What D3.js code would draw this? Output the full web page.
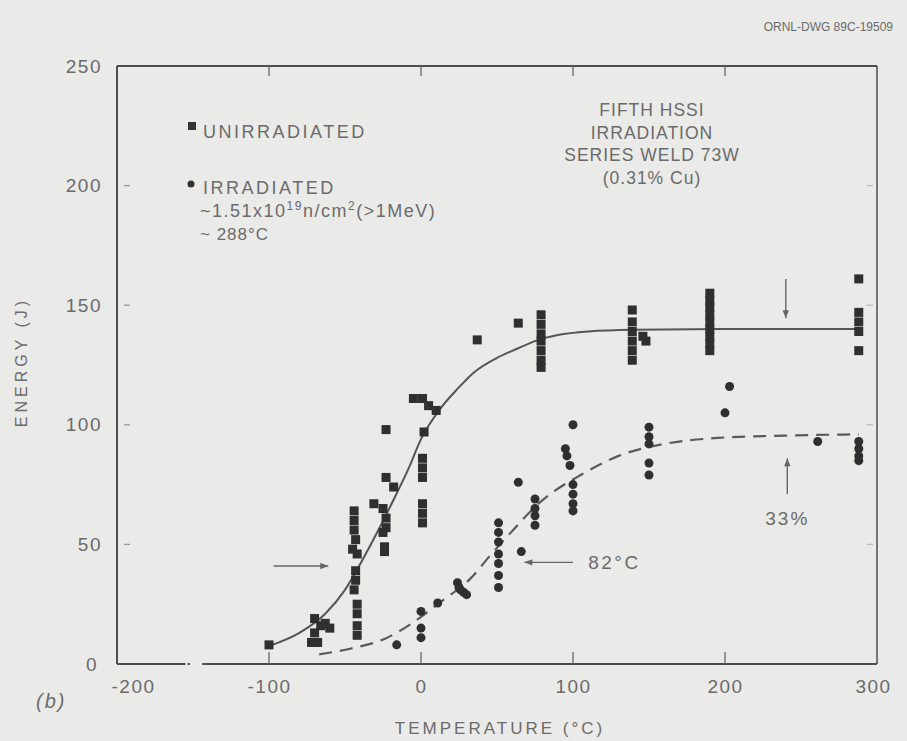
<!DOCTYPE html>
<html>
<head>
<meta charset="utf-8">
<script src="https://cdn.jsdelivr.net/npm/d3@7"></script>
<style>
  html, body { margin: 0; padding: 0; background: #e9e9e7; }
  svg { display: block; }
  text { font-family: "Liberation Sans", Arial, sans-serif; fill: #6b6b6b; }
</style>
</head>
<body>
<script>
// tick labels
const tempTicks = [-200, -100, 0, 100, 200, 300]
const energyTicks = [0, 50, 100, 150, 200, 250]
const innerTempTicks = [-100, 0, 100, 200]
const innerEnergyTicks = [50, 100, 150, 200]

// unirradiated specimens (squares): [temperature C, energy J]
const unirradiated = [
    [-100, 8],
    [-72, 9], [-68, 9], [-70, 13], [-66, 16], [-60, 15], [-70, 19], [-63, 17],
    [-44, 64], [-44, 60], [-44, 56], [-43, 52], [-45, 48], [-42, 46], [-43, 39],
    [-43, 35], [-44, 31], [-42, 25], [-42, 21], [-42, 16], [-42, 12],
    [-31, 67], [-25, 65], [-23, 61], [-23, 57], [-23, 78], [-18, 74], [-23, 98],
    [-25, 55], [-24, 49], [-24, 47],
    [2, 97], [1, 86], [1, 82], [1, 78], [1, 67], [1, 63], [1, 59],
    [-5, 111], [1, 111], [5, 108], [10, 106],
    [37, 135.5], [64, 142.5],
    [79, 146], [79, 142], [79, 138], [79, 135], [79, 131], [79, 127], [79, 124],
    [139, 148], [139, 143], [139, 139], [139, 135], [139, 131], [139, 127], [146, 137], [148, 135],
    [190, 155], [190, 152], [190, 149], [190, 146], [190, 143], [190, 140], [190, 137], [190, 134], [190, 131],
    [288, 161], [288, 147], [288, 143], [288, 139], [288, 131]
]

// irradiated specimens (circles)
const irradiated = [
    [-16, 8],
    [0, 22], [0, 15], [0, 11],
    [11, 25.5],
    [24, 34], [26, 31], [28, 30], [30, 29], [25, 32],
    [51, 59], [51, 55], [51, 51], [51, 46], [51, 42], [51, 37], [51, 32],
    [64, 76], [66, 47],
    [75, 69], [75, 65], [75, 62], [75, 58],
    [95, 90], [96, 87], [98, 83], [100, 100], [100, 75], [100, 71], [100, 67], [100, 64],
    [150, 99], [150, 95], [150, 92], [150, 84], [150, 79],
    [200, 105], [203, 116],
    [261, 93],
    [288, 93], [288, 90], [288, 87], [288, 85]
]

// fitted curves as drawn on the figure
const unirradiatedFit = [
    [-100, 7.5], [-80, 13], [-63, 21], [-50, 31], [-39, 43], [-28, 56], [-17, 70],
    [-8, 82], [0, 94], [13, 107], [24, 115], [35, 122], [50, 128], [64, 132],
    [75, 135], [90, 137.5], [110, 139], [140, 139.7], [200, 140], [288, 140]
]
const irradiatedFit = [
    [-67, 4], [-46, 6.5], [-24, 10.5], [-6, 17], [13, 26], [33, 36], [45, 45],
    [57, 53.5], [79, 68], [105, 79], [130, 87], [160, 92], [195, 94.5],
    [240, 95.5], [288, 96]
]

const legendLines = ['~1.51x10', '~ 288\u00b0C']
const titleLines = ['FIFTH HSSI', 'IRRADIATION', 'SERIES WELD 73W', '(0.31% Cu)']

const W = 907, H = 741

const svg = d3.select('body').append('svg')
    .attr('width', W)
    .attr('height', H)

svg.append('rect').attr('width', W).attr('height', H).attr('fill', '#eaeae8')

const x = d3.scaleLinear().domain([-200, 300]).range([117, 877])
const y = d3.scaleLinear().domain([0, 250]).range([664, 66])

const ink = '#4d4d4d'

// frame
const frame = svg.append('g').attr('stroke', ink).attr('stroke-width', 2).attr('fill', 'none')
frame.append('line').attr('x1', x(-200)).attr('x2', x(300)).attr('y1', y(250)).attr('y2', y(250))
frame.append('line').attr('x1', x(-200)).attr('x2', x(-200)).attr('y1', y(250)).attr('y2', y(0))
frame.append('line').attr('x1', x(300)).attr('x2', x(300)).attr('y1', y(250)).attr('y2', y(0)).attr('stroke-width', 1.5)
// bottom axis has a small break in the original
frame.append('line').attr('x1', x(-200)).attr('x2', x(-155)).attr('y1', y(0)).attr('y2', y(0))
frame.append('line').attr('x1', x(-153.5)).attr('x2', x(-152)).attr('y1', y(0)).attr('y2', y(0))
frame.append('line').attr('x1', x(-144)).attr('x2', x(300)).attr('y1', y(0)).attr('y2', y(0))

// inward tick marks
const ticks = svg.append('g').attr('stroke', '#666').attr('stroke-width', 1.3)
innerTempTicks.forEach(function (t) {
    ticks.append('line').attr('x1', x(t)).attr('x2', x(t)).attr('y1', y(250)).attr('y2', y(250) + 10)
    ticks.append('line').attr('x1', x(t)).attr('x2', x(t)).attr('y1', y(0)).attr('y2', y(0) - 12)
})
innerEnergyTicks.forEach(function (e) {
    ticks.append('line').attr('x1', x(-200) + 7).attr('x2', x(-200) + 13).attr('y1', y(e)).attr('y2', y(e)).attr('stroke', '#999')
    ticks.append('line').attr('x1', x(300) - 10).attr('x2', x(300) - 4).attr('y1', y(e)).attr('y2', y(e)).attr('stroke', '#bbb')
})

// axis labels via d3 axes, domain hidden
const xAxis = svg.append('g')
    .attr('transform', 'translate(0,' + (y(0) + 10) + ')')
    .call(d3.axisBottom(x).tickValues(tempTicks).tickSize(0).tickPadding(6)
        .tickFormat(function (d) { return d < 0 ? '-' + Math.abs(d) : d }))
xAxis.select('.domain').remove()
xAxis.selectAll('text')
    .attr('font-size', 19).attr('fill', '#6b6b6b').attr('letter-spacing', 1.5)
    .attr('font-family', '"Liberation Sans", Arial, sans-serif')
    .attr('dx', function (d) { return d === -200 ? 16 : (d === 300 ? -4 : 0) })

const yAxis = svg.append('g')
    .attr('transform', 'translate(' + (x(-200) - 15) + ',0)')
    .call(d3.axisLeft(y).tickValues(energyTicks).tickSize(0).tickPadding(0))
yAxis.select('.domain').remove()
yAxis.selectAll('text')
    .attr('font-size', 19).attr('fill', '#6b6b6b').attr('letter-spacing', 1.5)
    .attr('font-family', '"Liberation Sans", Arial, sans-serif')
    .attr('dx', function (d) { return d === 0 ? -4 : 0 })

svg.append('text')
    .attr('x', 500).attr('y', 734)
    .attr('text-anchor', 'middle')
    .attr('font-size', 17).attr('letter-spacing', 3)
    .text('TEMPERATURE (\u00b0C)')

svg.append('text')
    .attr('transform', 'translate(27,362) rotate(-90)')
    .attr('text-anchor', 'middle')
    .attr('font-size', 16).attr('letter-spacing', 4)
    .text('ENERGY (J)')

svg.append('text')
    .attr('x', 36).attr('y', 708)
    .attr('font-size', 20).attr('font-style', 'italic').attr('letter-spacing', 2)
    .text('(b)')

svg.append('text')
    .attr('x', 893).attr('y', 31)
    .attr('text-anchor', 'end')
    .attr('font-size', 12).attr('fill', '#a0a0a0')
    .text('ORNL-DWG 89C-19509')

// title block
svg.append('g').selectAll('text').data(titleLines).join('text')
    .attr('x', 652)
    .attr('y', function (d, i) { return 116 + i * 22.5 })
    .attr('text-anchor', 'middle')
    .attr('font-size', 17.5).attr('letter-spacing', 1)
    .text(function (d) { return d })

// legend
svg.append('rect').attr('x', 188).attr('y', 122).attr('width', 8).attr('height', 8).attr('fill', '#333')
svg.append('text').attr('x', 203).attr('y', 138).attr('font-size', 18).attr('letter-spacing', 2.5)
    .text('UNIRRADIATED')
svg.append('circle').attr('cx', 191).attr('cy', 184).attr('r', 3.5).attr('fill', '#333')
svg.append('text').attr('x', 203).attr('y', 194).attr('font-size', 18).attr('letter-spacing', 2.5)
    .text('IRRADIATED')
const fluence = svg.append('text').attr('x', 200).attr('y', 217).attr('font-size', 18).attr('letter-spacing', 1.5)
fluence.append('tspan').text(legendLines[0])
fluence.append('tspan').attr('font-size', 12).attr('dy', -7).text('19')
fluence.append('tspan').attr('dy', 7).text('n/cm')
fluence.append('tspan').attr('font-size', 12).attr('dy', -7).text('2')
fluence.append('tspan').attr('dy', 7).text('(>1MeV)')
svg.append('text').attr('x', 200).attr('y', 240).attr('font-size', 17).attr('letter-spacing', 1)
    .text(legendLines[1])

// fitted curves
const line = d3.line()
    .x(function (d) { return x(d[0]) })
    .y(function (d) { return y(d[1]) })
    .curve(d3.curveMonotoneX)

svg.append('path').datum(unirradiatedFit)
    .attr('d', line).attr('fill', 'none').attr('stroke', '#555').attr('stroke-width', 2)

svg.append('path').datum(irradiatedFit)
    .attr('d', line).attr('fill', 'none').attr('stroke', '#5a5a5a').attr('stroke-width', 2.2)
    .attr('stroke-dasharray', '13,8')

// markers
svg.append('g').selectAll('rect').data(unirradiated).join('rect')
    .attr('x', function (d) { return x(d[0]) - 4.5 })
    .attr('y', function (d) { return y(d[1]) - 4.5 })
    .attr('width', 9).attr('height', 9)
    .attr('fill', '#2f2f2f')

svg.append('g').selectAll('circle').data(irradiated).join('circle')
    .attr('cx', function (d) { return x(d[0]) })
    .attr('cy', function (d) { return y(d[1]) })
    .attr('r', 4.5)
    .attr('fill', '#2f2f2f')

// annotations (arrows), in data units
function arrow(x1, y1, x2, y2) {
    const ax1 = x(x1), ay1 = y(y1), ax2 = x(x2), ay2 = y(y2)
    const ang = Math.atan2(ay2 - ay1, ax2 - ax1)
    const g = svg.append('g')
    g.append('line').attr('x1', ax1).attr('y1', ay1).attr('x2', ax2).attr('y2', ay2)
        .attr('stroke', '#666').attr('stroke-width', 1.4)
    const L = 8, Wd = 3.2
    const p = [
        [ax2, ay2],
        [ax2 - L * Math.cos(ang) + Wd * Math.sin(ang), ay2 - L * Math.sin(ang) - Wd * Math.cos(ang)],
        [ax2 - L * Math.cos(ang) - Wd * Math.sin(ang), ay2 - L * Math.sin(ang) + Wd * Math.cos(ang)]
    ]
    g.append('path').attr('d', 'M' + p.join('L') + 'Z').attr('fill', '#666')
}

arrow(-97, 41, -61, 41)
arrow(100, 42.5, 68, 42.5)
arrow(240, 161, 240, 144.5)
arrow(241, 71, 241, 86)

svg.append('text').attr('x', x(110)).attr('y', y(42.5) + 7)
    .attr('font-size', 19).attr('letter-spacing', 2.5)
    .text('82\u00b0C')

svg.append('text').attr('x', x(241)).attr('y', y(61) + 7)
    .attr('text-anchor', 'middle')
    .attr('font-size', 19).attr('letter-spacing', 2)
    .text('33%')
</script>
</body>
</html>
